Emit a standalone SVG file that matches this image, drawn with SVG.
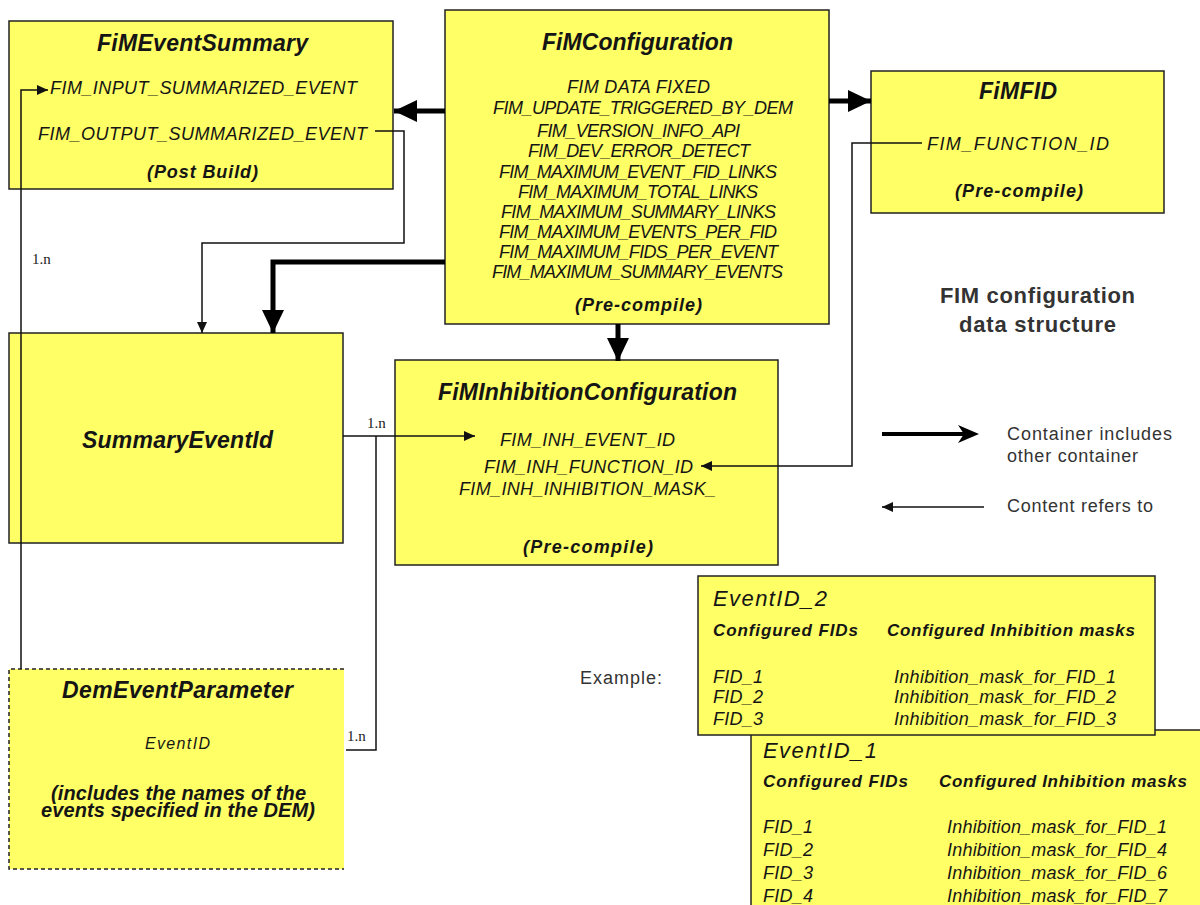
<svg xmlns="http://www.w3.org/2000/svg" width="1200" height="905" viewBox="0 0 1200 905">
<style>
text{font-family:"Liberation Sans",Arial,sans-serif;fill:#151515}
.box{fill:#FFFF66;stroke:#222;stroke-width:1.5}
.t{font-size:23px;font-weight:bold;font-style:italic}
.i{font-size:18px;font-style:italic}
.b{font-size:18px;font-weight:bold;font-style:italic}
.g{font-size:18px;fill:#333}
.gb{font-size:22px;font-weight:bold;fill:#333}
.m{font-family:"Liberation Serif",serif;font-size:15px;fill:#222}
.ev{font-size:22px;font-style:italic}
.cb{font-size:17px;font-weight:bold;font-style:italic}
.thin{fill:none;stroke:#111;stroke-width:1.5}
.thick{fill:none;stroke:#000;stroke-width:5}
</style>
<defs>
<marker id="ah" markerUnits="userSpaceOnUse" markerWidth="12" markerHeight="12" viewBox="0 0 12 12" refX="11" refY="6" orient="auto"><path d="M0,1 L11,6 L0,11 Z" fill="#111"/></marker>
<marker id="AH" markerUnits="userSpaceOnUse" markerWidth="24" markerHeight="24" viewBox="0 0 24 24" refX="23" refY="12" orient="auto"><path d="M0,1 L23,12 L0,23 Z" fill="#000"/></marker>
</defs>
<rect width="1200" height="905" fill="#fff"/>

<g id="FiMEventSummary">
<rect class="box" x="9" y="21" width="384" height="168"/>
<text class="t" x="97" y="51" textLength="211">FiMEventSummary</text>
<text class="i" x="50" y="94" textLength="307">FIM_INPUT_SUMMARIZED_EVENT</text>
<text class="i" x="38" y="140" textLength="329">FIM_OUTPUT_SUMMARIZED_EVENT</text>
<text class="b" x="147" y="178" textLength="111">(Post Build)</text>
</g>

<g id="FiMConfiguration">
<rect class="box" x="445" y="10" width="384" height="314"/>
<text class="t" x="542" y="50" textLength="191">FiMConfiguration</text>
<text class="i" x="567" y="93" textLength="143">FIM DATA FIXED</text>
<text class="i" x="493" y="114" textLength="300">FIM_UPDATE_TRIGGERED_BY_DEM</text>
<text class="i" x="537" y="137" textLength="203">FIM_VERSION_INFO_API</text>
<text class="i" x="528" y="157" textLength="222">FIM_DEV_ERROR_DETECT</text>
<text class="i" x="499" y="178" textLength="278">FIM_MAXIMUM_EVENT_FID_LINKS</text>
<text class="i" x="518" y="198" textLength="240">FIM_MAXIMUM_TOTAL_LINKS</text>
<text class="i" x="501" y="218" textLength="275">FIM_MAXIMUM_SUMMARY_LINKS</text>
<text class="i" x="499" y="238" textLength="278">FIM_MAXIMUM_EVENTS_PER_FID</text>
<text class="i" x="499" y="258" textLength="279">FIM_MAXIMUM_FIDS_PER_EVENT</text>
<text class="i" x="492" y="278" textLength="291">FIM_MAXIMUM_SUMMARY_EVENTS</text>
<text class="b" x="575" y="311" textLength="127">(Pre-compile)</text>
</g>

<g id="FiMFID">
<rect class="box" x="871" y="71" width="293" height="142"/>
<text class="t" x="979" y="99" textLength="78">FiMFID</text>
<text class="i" x="927" y="150" textLength="182">FIM_FUNCTION_ID</text>
<text class="b" x="955" y="197" textLength="128">(Pre-compile)</text>
</g>

<g id="title">
<text class="gb" x="940" y="303" textLength="195">FIM configuration</text>
<text class="gb" x="959" y="332" textLength="157">data structure</text>
</g>

<g id="FiMInhibitionConfiguration">
<rect class="box" x="395" y="360" width="383" height="205"/>
<text class="t" x="438" y="400" textLength="299">FiMInhibitionConfiguration</text>
<text class="i" x="500" y="446" textLength="175">FIM_INH_EVENT_ID</text>
<text class="i" x="484" y="473" textLength="209">FIM_INH_FUNCTION_ID</text>
<text class="i" x="459" y="495" textLength="257">FIM_INH_INHIBITION_MASK_</text>
<text class="b" x="523" y="553" textLength="130">(Pre-compile)</text>
</g>

<g id="SummaryEventId">
<rect class="box" x="9" y="333" width="334" height="210"/>
<text class="t" x="82" y="448" textLength="191">SummaryEventId</text>
</g>

<g id="DemEventParameter">
<rect x="9" y="669" width="335" height="200" fill="#FFFF66"/>
<path d="M344,669 H9 V869 H344" fill="none" stroke="#222" stroke-width="1.5" stroke-dasharray="4,3"/>
<text class="t" x="62" y="698" textLength="231">DemEventParameter</text>
<text class="i" x="145" y="749" textLength="65" style="font-size:16px">EventID</text>
<text class="b" x="51" y="800" textLength="255" style="font-size:20px">(includes the names of the</text>
<text class="b" x="41" y="817" textLength="274" style="font-size:20px">events specified in the DEM)</text>
</g>

<g id="connectors">
<path class="thin" d="M21,669 V90 H48" marker-end="url(#ah)"/>
<path class="thin" d="M375,131 H404 V243 H202 V333" marker-end="url(#ah)"/>
<path class="thick" d="M445,111 H394" marker-end="url(#AH)"/>
<path class="thick" d="M445,262 H273 V333" marker-end="url(#AH)"/>
<path class="thick" d="M829,101 H871" marker-end="url(#AH)"/>
<path class="thick" d="M618,324 V361" marker-end="url(#AH)"/>
<path class="thin" d="M922,143 H852 V466 H701" marker-end="url(#ah)"/>
<path class="thin" d="M343,436 H475" marker-end="url(#ah)"/>
<path class="thin" d="M376,436 V750 H346"/>
</g>

<g id="multiplicities">
<text class="m" x="32" y="264">1.n</text>
<text class="m" x="367" y="428">1.n</text>
<text class="m" x="347" y="741">1.n</text>
</g>

<g id="legend">
<path d="M882,434 H968" fill="none" stroke="#000" stroke-width="4"/>
<path d="M958,425 L979,434 L958,443 L964,434 Z" fill="#000"/>
<text class="g" x="1007" y="440" textLength="165">Container includes</text>
<text class="g" x="1007" y="462" textLength="131">other container</text>
<path class="thin" d="M984,507 H882" marker-end="url(#ah)"/>
<text class="g" x="1007" y="512" textLength="146">Content refers to</text>
</g>

<text class="g" x="580" y="684" textLength="82">Example:</text>

<g id="EventID_1">
<rect class="box" x="751" y="730" width="500" height="200"/>
<text class="ev" x="763" y="758" textLength="114">EventID_1</text>
<text class="cb" x="763" y="787" textLength="145">Configured FIDs</text>
<text class="cb" x="939" y="787" textLength="248">Configured Inhibition masks</text>
<text class="i" x="763" y="833" textLength="50">FID_1</text>
<text class="i" x="763" y="856" textLength="50">FID_2</text>
<text class="i" x="763" y="879" textLength="50">FID_3</text>
<text class="i" x="763" y="902" textLength="50">FID_4</text>
<text class="i" x="947" y="833" textLength="220">Inhibition_mask_for_FID_1</text>
<text class="i" x="947" y="856" textLength="220">Inhibition_mask_for_FID_4</text>
<text class="i" x="947" y="879" textLength="220">Inhibition_mask_for_FID_6</text>
<text class="i" x="947" y="902" textLength="220">Inhibition_mask_for_FID_7</text>
</g>

<g id="EventID_2">
<rect class="box" x="698" y="576" width="457" height="159"/>
<text class="ev" x="713" y="606" textLength="114">EventID_2</text>
<text class="cb" x="713" y="636" textLength="145">Configured FIDs</text>
<text class="cb" x="887" y="636" textLength="248">Configured Inhibition masks</text>
<text class="i" x="713" y="683" textLength="50">FID_1</text>
<text class="i" x="713" y="703" textLength="50">FID_2</text>
<text class="i" x="713" y="725" textLength="50">FID_3</text>
<text class="i" x="894" y="683" textLength="222">Inhibition_mask_for_FID_1</text>
<text class="i" x="894" y="703" textLength="222">Inhibition_mask_for_FID_2</text>
<text class="i" x="894" y="725" textLength="222">Inhibition_mask_for_FID_3</text>
</g>
</svg>
